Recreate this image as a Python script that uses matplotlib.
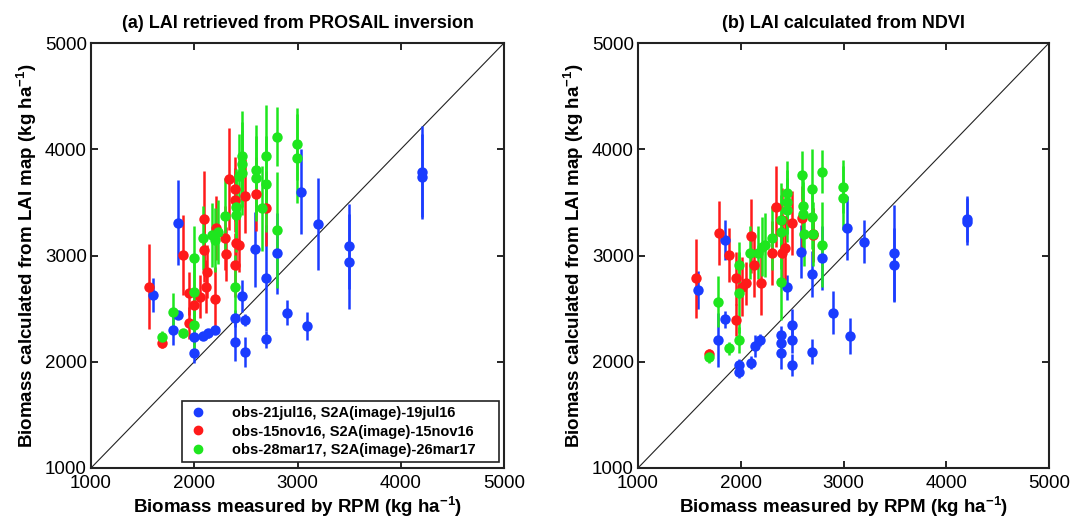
import matplotlib
matplotlib.use("Agg")
import matplotlib.pyplot as plt
from matplotlib.lines import Line2D
import numpy as np

plt.rcParams['font.family'] = ['Liberation Sans', 'DejaVu Sans']
plt.rcParams['mathtext.fontset'] = 'custom'
plt.rcParams['mathtext.rm'] = 'Liberation Sans:bold'
plt.rcParams['mathtext.default'] = 'rm'

# ---------------- data: panel (a) PROSAIL ----------------
a_blue_x = [1597, 1845, 1845, 1797, 1997, 1997, 2087, 2136, 2200, 2394, 2394, 2491, 2491,
            2459, 2588, 2694, 2694, 2803, 2894, 3094, 3033, 3200, 3497, 3497, 4201, 4201]
a_blue_y = [2628, 3309, 2440, 2299, 2085, 2236, 2242, 2268, 2299, 2409, 2189, 2393, 2094,
            2619, 3058, 2791, 2214, 3021, 2463, 2336, 3601, 3296, 3089, 2942, 3789, 3743]
a_blue_e = [160, 400, 40, 140, 100, 60, 40, 40, 40, 80, 180, 60, 140,
            150, 350, 500, 80, 380, 120, 130, 400, 430, 400, 450, 430, 400]

a_red_x = [1562, 1684, 1894, 1949, 1949, 2000, 2055, 2113, 2094, 2094, 2126, 2200, 2210,
           2297, 2307, 2339, 2394, 2401, 2436, 2394, 2394, 2491, 2594, 2694]
a_red_y = [2706, 2174, 3005, 2644, 2362, 2534, 2612, 2706, 3052, 3341, 2848, 2588, 3256,
           3162, 3014, 3718, 2911, 3115, 3099, 3626, 3522, 3560, 3579, 3444]
a_red_e = [400, 40, 380, 200, 150, 150, 200, 250, 300, 450, 250, 300, 300,
           300, 250, 480, 300, 250, 250, 300, 300, 350, 350, 350]

a_green_x = [1684, 1797, 1894, 1997, 1997, 1997, 2087, 2168, 2200, 2233, 2297, 2394, 2401, 2401,
             2433, 2459, 2459, 2459, 2597, 2597, 2652, 2691, 2691, 2803, 2803, 2997, 2997]
a_green_y = [2236, 2471, 2268, 2974, 2659, 2346, 3162, 3193, 3146, 3224, 3375, 2706, 3461, 3381,
             3744, 3937, 3861, 3779, 3805, 3727, 3444, 3939, 3673, 4118, 3240, 4049, 3915]
a_green_e = [50, 180, 40, 300, 300, 250, 300, 300, 300, 300, 350, 300, 350, 350,
             400, 420, 400, 400, 420, 400, 400, 480, 450, 280, 550, 340, 420]

# ---------------- data: panel (b) NDVI ----------------
b_blue_x = [1587, 1847, 1847, 1782, 1986, 1986, 2097, 2139, 2187, 2392, 2392, 2392, 2496, 2496,
            2496, 2447, 2583, 2697, 2697, 2794, 2901, 3063, 3031, 3200, 3494, 3494, 4205, 4205]
b_blue_y = [2675, 3146, 2400, 2205, 1969, 1906, 1991, 2148, 2205, 2252, 2174, 2080, 2346, 2205,
            1969, 2700, 3036, 2826, 2095, 2974, 2462, 2242, 3256, 3130, 3021, 2911, 3344, 3320]
b_blue_e = [180, 190, 80, 250, 60, 60, 60, 100, 60, 80, 100, 150, 150, 120,
            100, 120, 250, 220, 120, 300, 200, 170, 300, 200, 450, 350, 220, 220]

b_red_x = [1561, 1691, 1788, 1889, 1954, 1954, 2009, 2051, 2097, 2132, 2194, 2301, 2343, 2398,
           2398, 2431, 2502, 2593, 2700, 2700]
b_red_y = [2785, 2070, 3209, 3005, 2785, 2393, 2706, 2738, 3184, 2911, 2744, 3026, 3460, 3334,
           3026, 3068, 3309, 3350, 3193, 3200]
b_red_e = [370, 50, 300, 250, 250, 150, 280, 200, 350, 300, 300, 300, 380, 300,
           250, 300, 300, 300, 250, 250]

b_green_x = [1691, 1782, 1889, 1986, 1986, 1986, 2090, 2171, 2204, 2236, 2301, 2389, 2389, 2392,
             2447, 2453, 2453, 2593, 2603, 2603, 2619, 2690, 2697, 2700, 2788, 2794, 2992, 2992]
b_green_y = [2048, 2565, 2126, 2911, 2650, 2205, 3026, 3026, 3083, 3099, 3162, 3334, 3224, 2753,
             3585, 3506, 3428, 3758, 3469, 3390, 3202, 3365, 3623, 3202, 3789, 3099, 3647, 3538]
b_green_e = [60, 240, 60, 220, 380, 120, 250, 250, 280, 300, 300, 350, 350, 360,
             300, 300, 300, 230, 300, 300, 300, 300, 380, 300, 200, 400, 250, 300]

titles = ["(a) LAI retrieved from PROSAIL inversion", "(b) LAI calculated from NDVI"]
legend_labels = ["obs-21jul16, S2A(image)-19jul16",
                 "obs-15nov16, S2A(image)-15nov16",
                 "obs-28mar17, S2A(image)-26mar17"]
ticks = [1000, 2000, 3000, 4000, 5000]

colors = ["#1a3cff", "#ff1a1a", "#1ee61e"]

fig = plt.figure(figsize=(10.73, 5.22), dpi=100)
ax_a = fig.add_axes([91 / 1073, 54 / 522, 413 / 1073, 425 / 522])
ax_b = fig.add_axes([638 / 1073, 54 / 522, 411 / 1073, 425 / 522])

panels = [
    (ax_a, [(a_blue_x, a_blue_y, a_blue_e), (a_red_x, a_red_y, a_red_e), (a_green_x, a_green_y, a_green_e)]),
    (ax_b, [(b_blue_x, b_blue_y, b_blue_e), (b_red_x, b_red_y, b_red_e), (b_green_x, b_green_y, b_green_e)]),
]

for i, (ax, series) in enumerate(panels):
    ax.plot([1000, 5000], [1000, 5000], color='#222222', lw=0.8, zorder=1)
    for (x, y, e), c in zip(series, colors):
        ax.errorbar(x, y, yerr=e, fmt='o', color=c, ecolor=c, elinewidth=1.8,
                    capsize=2.5, capthick=1.5, markersize=7.5, markeredgewidth=0, zorder=3)
    ax.set_xlim(1000, 5000)
    ax.set_ylim(1000, 5000)
    ax.set_xticks(ticks)
    ax.set_yticks(ticks)
    ax.tick_params(direction='in', length=5, width=1.2, top=True, right=True,
                   labelsize=13.5, pad=3)
    ax.tick_params(axis='x', pad=5)
    for s in ax.spines.values():
        s.set_linewidth(1.5)
        s.set_color('#222222')
    ax.set_title(titles[i], fontsize=13, fontweight='bold', pad=11)
    ax.set_xlabel(r'Biomass measured by RPM (kg ha$^{-1}$)', fontsize=13.5,
                  fontweight='bold', labelpad=2)
    ax.set_ylabel(r'Biomass calculated from LAI map (kg ha$^{-1}$)', fontsize=13.5,
                  fontweight='bold', labelpad=4)

handles = [Line2D([], [], marker='o', linestyle='none', color=c, markersize=6) for c in colors]
leg = ax_a.legend(handles, legend_labels, loc='lower left',
                  bbox_to_anchor=(0.22, 0.014, 0.768, 0.158), mode='expand',
                  borderaxespad=0, fancybox=False, framealpha=1, edgecolor='#222222',
                  prop={'weight': 'bold', 'size': 10.5}, handlelength=1.5,
                  handletextpad=1.6, borderpad=0.35, labelspacing=0.3)
leg.get_frame().set_linewidth(1.2)

fig.savefig("out.png", dpi=100)
